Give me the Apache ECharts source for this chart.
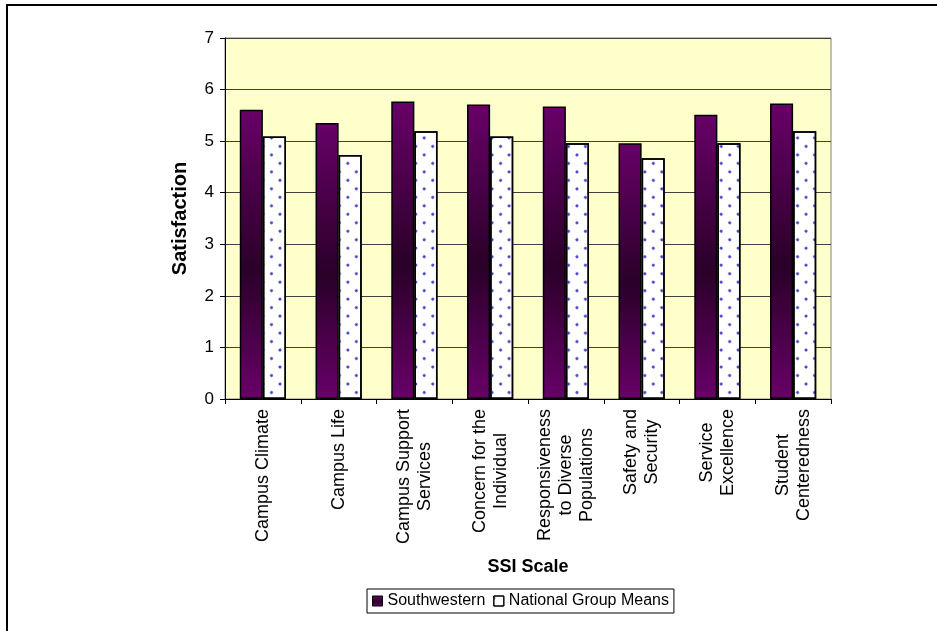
<!DOCTYPE html>
<html>
<head>
<meta charset="utf-8">
<script src="https://cdn.jsdelivr.net/npm/echarts@6/dist/echarts.min.js"></script>
<style>
html,body{margin:0;padding:0;background:#fff;}
#chart{width:937px;height:631px;}
</style>
</head>
<body>
<div id="chart"></div>
<script>
const categories = [
  "Campus Climate",
  "Campus Life",
  "Campus Support\nServices",
  "Concern for the\nIndividual",
  "Responsiveness\nto Diverse\nPopulations",
  "Safety and\nSecurity",
  "Service\nExcellence",
  "Student\nCenteredness"
];
const southwestern = [5.61, 5.35, 5.77, 5.71, 5.67, 4.96, 5.51, 5.73];
const nationalMeans = [5.09, 4.73, 5.19, 5.09, 4.96, 4.67, 4.96, 5.19];
const yTicks = [0, 1, 2, 3, 4, 5, 6, 7];

const FONT = "'Liberation Sans', Arial, sans-serif";
const chart = echarts.init(document.getElementById('chart'), null, {renderer: 'canvas'});

const option = {
  animation: false,
  backgroundColor: '#ffffff',
  graphic: [{
    type: 'polyline',
    shape: {points: [[7, 640], [7, 5], [945, 5]]},
    style: {stroke: '#000', lineWidth: 2, fill: null},
    silent: true
  }],
  grid: {
    left: 225, right: 106, top: 38, bottom: 232,
    show: true, backgroundColor: '#ffffcc', borderColor: '#808080', borderWidth: 1
  },
  legend: {
    top: 589,
    left: 367,
    icon: 'rect',
    itemWidth: 10, itemHeight: 10,
    itemGap: 8,
    padding: [4, 5, 4, 5],
    borderColor: '#000', borderWidth: 1,
    itemStyle: {borderWidth: 1},
    textStyle: {fontFamily: FONT, fontSize: 16, color: '#000'},
    data: ['Southwestern', 'National Group Means']
  },
  xAxis: {
    type: 'category',
    data: categories,
    name: 'SSI Scale',
    nameLocation: 'middle',
    nameGap: 159,
    nameMoveOverlap: false,
    nameTextStyle: {fontFamily: FONT, fontSize: 18, fontWeight: 'bold', color: '#000'},
    axisLine: {show: true, lineStyle: {color: '#000', width: 1}},
    axisTick: {show: true, length: 5, lineStyle: {color: '#000'}},
    axisLabel: {
      interval: 0,
      rotate: 90,
      margin: 10,
      color: '#000',
      fontFamily: FONT,
      fontSize: 18,
      lineHeight: 21,
      formatter: function (v) {
        return v.split('\n').map(function (s) { return '{c|' + s + '}'; }).join('\n');
      },
      rich: {c: {align: 'center', fontFamily: FONT, fontSize: 18, lineHeight: 21, color: '#000'}}
    },
    splitLine: {show: false}
  },
  yAxis: {
    type: 'value',
    min: yTicks[0],
    max: yTicks[yTicks.length - 1],
    interval: 1,
    name: 'Satisfaction',
    nameLocation: 'middle',
    nameRotate: 90,
    nameGap: 35,
    nameMoveOverlap: false,
    nameTextStyle: {fontFamily: FONT, fontSize: 20, fontWeight: 'bold', color: '#000'},
    axisLine: {show: true, lineStyle: {color: '#000', width: 1}},
    axisTick: {show: true, length: 5, lineStyle: {color: '#000'}},
    axisLabel: {color: '#000', fontFamily: FONT, fontSize: 17, margin: 11},
    splitLine: {show: true, lineStyle: {color: '#404040', width: 1}}
  },
  series: [{
    name: 'Southwestern',
    type: 'bar',
    data: southwestern,
    barGap: '0%',
    barCategoryGap: '39%',
    itemStyle: {
      borderColor: '#000', borderWidth: 1.5,
      color: {
        type: 'linear', x: 0, y: 0, x2: 0, y2: 1,
        colorStops: [
          {offset: 0, color: '#680068'},
          {offset: 0.55, color: '#2a0028'},
          {offset: 1, color: '#680068'}
        ]
      }
    }
  }, {
    name: 'National Group Means',
    type: 'bar',
    data: nationalMeans,
    itemStyle: {
      color: '#ffffff',
      borderColor: '#000', borderWidth: 1.5,
      decal: {
        symbol: 'circle',
        symbolSize: 1,
        color: '#3c3cc0',
        dashArrayX: [2.4, 8.7],
        dashArrayY: [2.4, 8.7],
        rotation: Math.PI / 4
      }
    }
  }]
};
chart.setOption(option);
</script>
</body>
</html>
